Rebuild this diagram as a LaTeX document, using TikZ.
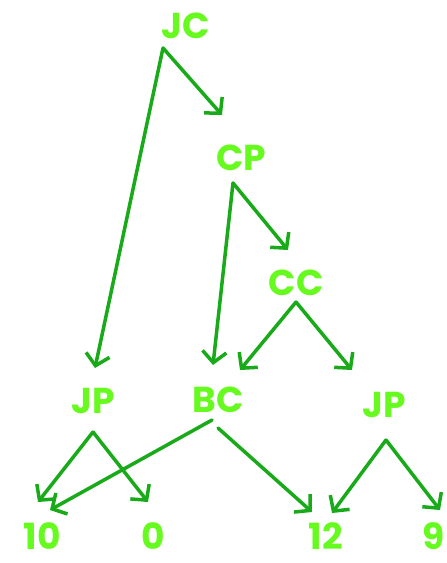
\documentclass[tikz,border=0pt]{standalone}
\usepackage{fontspec}
\setmainfont{Poppins}
\usetikzlibrary{arrows.meta,positioning}

\definecolor{labelgreen}{RGB}{102,250,30}
\definecolor{arrowgreen}{RGB}{25,170,25}

\begin{document}
\begin{tikzpicture}[x=1pt, y=-1pt,
    lbl/.style={text=labelgreen, inner sep=0pt, font=\fontsize{36}{38}\selectfont\bfseries},
    arrow/.style={draw=arrowgreen, line width=3.5pt, line cap=round,
        -{Straight Barb[length=11pt, width=24pt]}}
]
\useasboundingbox (0,0) rectangle (447,563);

% Internal nodes
\node[lbl] (jc)  at (186,26)  {JC};
\node[lbl] (cp)  at (241,158) {CP};
\node[lbl] (cc)  at (296,283) {CC};
\node[lbl] (jpl) at (93,401)  {JP};
\node[lbl] (bc)  at (218,400) {BC};
\node[lbl] (jpr) at (384,405) {JP};

% Leaves
\node[lbl] (n10) at (42,536)  {10};
\node[lbl] (n0)  at (153,536) {0};
\node[lbl] (n12) at (326,536) {12};
\node[lbl] (n9)  at (434,536) {9};

% Where the arrows leave each node
\coordinate (jc-fork)  at ([shift={(-23,22)}]jc.center);
\coordinate (cp-fork)  at ([shift={(-8,25)}]cp.center);
\coordinate (cc-fork)  at ([shift={(0,19)}]cc.center);
\coordinate (jpl-fork) at ([shift={(0,31)}]jpl.center);
\coordinate (bc-left)  at ([shift={(-6,20)}]bc.center);
\coordinate (bc-right) at ([shift={(0,28)}]bc.center);
\coordinate (jpr-fork) at ([shift={(2,35)}]jpr.center);

% Arrows
\draw[arrow] (jc-fork) -- ([shift={(-19,-43)}]cp.center);
\draw[arrow] (jc-fork) -- ([shift={(2,-33)}]jpl.center);
\draw[arrow] (cp-fork) -- ([shift={(-8,-33)}]cc.center);
\draw[arrow] (cp-fork) -- ([shift={(-5,-35)}]bc.center);
\draw[arrow] (cc-fork) -- ([shift={(22,-30)}]bc.center);
\draw[arrow] (cc-fork) -- ([shift={(-32,-35)}]jpr.center);
\draw[arrow] (jpl-fork) -- ([shift={(-4,-34)}]n10.center);
\draw[arrow] (jpl-fork) -- ([shift={(-5,-34)}]n0.center);
\draw[arrow] (bc-left) -- ([shift={(8,-26)}]n10.center);
\draw[arrow] (bc-right) -- ([shift={(-14,-24)}]n12.center);
\draw[arrow] (jpr-fork) -- ([shift={(6,-23)}]n12.center);
\draw[arrow] (jpr-fork) -- ([shift={(6,-26)}]n9.center);

\end{tikzpicture}
\end{document}
